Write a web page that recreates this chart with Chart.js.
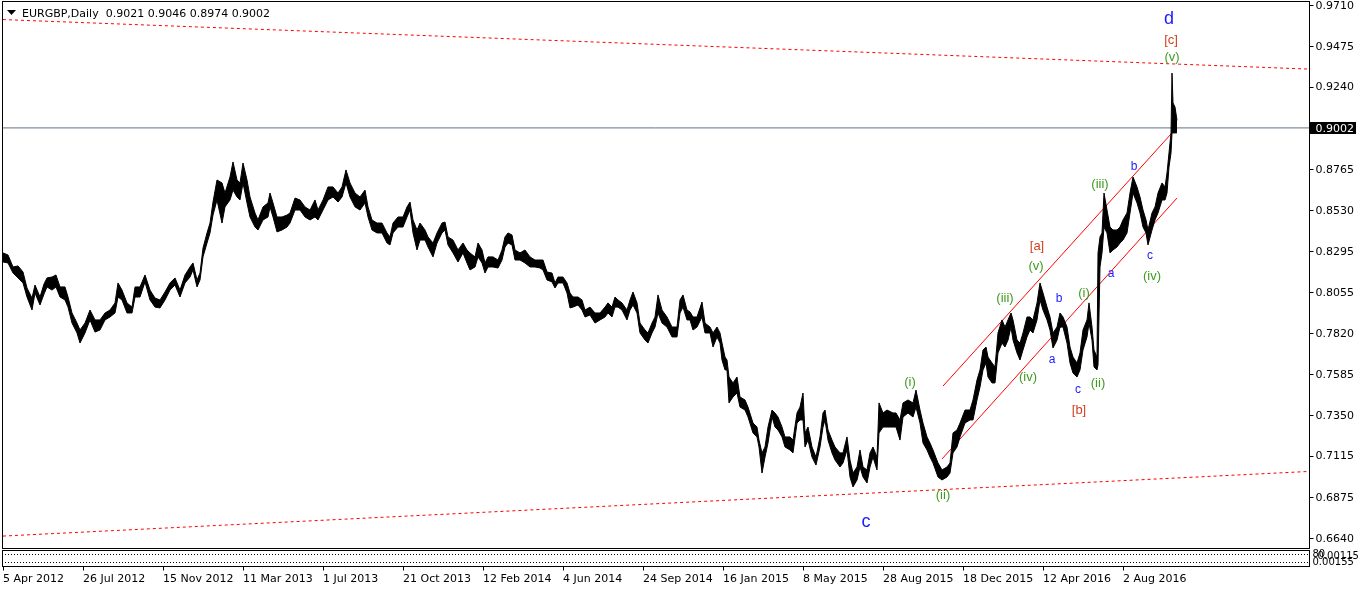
<!DOCTYPE html>
<html>
<head>
<meta charset="utf-8">
<title>EURGBP,Daily</title>
<script src="https://cdn.jsdelivr.net/npm/chart.js@4.4.0/dist/chart.umd.min.js"></script>
<style>
  html, body { margin: 0; padding: 0; background: #ffffff; }
  #wrap { width: 1362px; height: 590px; }
</style>
</head>
<body>
<div id="wrap"><canvas id="chart-eurgbp" width="1362" height="590"></canvas></div>
<script>
// EURGBP Daily - bar 0 = 5 Apr 2012, one bar per trading day
const barIndex = [
  0, 5, 10, 15, 20, 24, 29, 32, 37, 41,
  44, 49, 53, 57, 62, 65, 69, 74, 77, 82,
  87, 92, 97, 102, 107, 112, 115, 119, 124, 129,
  132, 137, 142, 147, 152, 157, 162, 167, 172, 177,
  182, 187, 190, 194, 197, 200, 204, 207, 210, 214,
  219, 222, 227, 230, 234, 237, 240, 244, 247, 252,
  255, 260, 265, 267, 270, 274, 279, 284, 287, 292,
  297, 302, 307, 312, 315, 320, 325, 330, 335, 339,
  343, 347, 352, 357, 362, 365, 369, 374, 379, 384,
  387, 390, 395, 400, 404, 407, 410, 414, 417, 422,
  425, 430, 434, 439, 442, 445, 450, 455, 460, 464,
  467, 472, 475, 479, 482, 485, 490, 495, 499, 502,
  505, 509, 512, 517, 522, 527, 532, 537, 540, 544,
  549, 552, 555, 560, 564, 567, 570, 575, 579, 582,
  587, 592, 597, 602, 605, 609, 612, 615, 619, 624,
  627, 630, 634, 637, 642, 645, 649, 652, 655, 659,
  664, 669, 674, 677, 680, 684, 687, 690, 694, 699,
  702, 707, 710, 714, 717, 719, 722, 724, 726, 730,
  734, 737, 742, 745, 750, 754, 756, 759, 762, 765,
  769, 772, 775, 779, 782, 787, 790, 794, 797, 800,
  802, 805, 809, 813, 817, 820, 822, 825, 829, 832,
  837, 840, 844, 847, 850, 854, 857, 860, 864, 867,
  870, 874, 876, 880, 884, 890, 893, 897, 900, 905,
  910, 913, 917, 920, 924, 927, 930, 935, 939, 944,
  947, 950, 954, 957, 962, 967, 970, 974, 977, 980,
  983, 985, 989, 992, 995, 999, 1002, 1005, 1008, 1010,
  1014, 1017, 1020, 1024, 1027, 1030, 1034, 1037, 1040, 1044,
  1047, 1050, 1054, 1057, 1060, 1064, 1067, 1070, 1074, 1077,
  1080, 1084, 1086, 1089, 1091, 1094, 1095, 1097, 1099, 1101,
  1104, 1107, 1110, 1114, 1117, 1120, 1124, 1127, 1130, 1134,
  1137, 1140, 1143, 1145, 1149, 1152, 1155, 1159, 1162, 1164,
  1166, 1168, 1169, 1170, 1172, 1174
];

const highs = [
  0.8282, 0.8270, 0.8201, 0.8207, 0.8172, 0.8080, 0.8022, 0.8097, 0.8028, 0.8103,
  0.8138, 0.8143, 0.8155, 0.8086, 0.8086, 0.8028, 0.7936, 0.7878, 0.7838, 0.7878,
  0.7953, 0.7896, 0.7896, 0.7936, 0.7953, 0.7994, 0.8109, 0.8068, 0.7994, 0.7970,
  0.8086, 0.8086, 0.8155, 0.8068, 0.8022, 0.8011, 0.8057, 0.8109, 0.8138, 0.8068,
  0.8155, 0.8201, 0.8224, 0.8126, 0.8166, 0.8310, 0.8397, 0.8454, 0.8575, 0.8702,
  0.8685, 0.8627, 0.8719, 0.8806, 0.8702, 0.8685, 0.8800, 0.8702, 0.8604, 0.8512,
  0.8472, 0.8547, 0.8570, 0.8627, 0.8570, 0.8489, 0.8489, 0.8500, 0.8512, 0.8598,
  0.8587, 0.8547, 0.8529, 0.8587, 0.8529, 0.8587, 0.8662, 0.8662, 0.8627, 0.8662,
  0.8760, 0.8685, 0.8627, 0.8604, 0.8644, 0.8547, 0.8472, 0.8454, 0.8454, 0.8397,
  0.8374, 0.8454, 0.8489, 0.8489, 0.8547, 0.8575, 0.8472, 0.8414, 0.8454, 0.8414,
  0.8374, 0.8339, 0.8397, 0.8454, 0.8460, 0.8374, 0.8356, 0.8299, 0.8339, 0.8299,
  0.8282, 0.8259, 0.8339, 0.8299, 0.8224, 0.8259, 0.8259, 0.8241, 0.8299, 0.8374,
  0.8397, 0.8385, 0.8299, 0.8282, 0.8299, 0.8259, 0.8241, 0.8241, 0.8241, 0.8172,
  0.8166, 0.8109, 0.8143, 0.8143, 0.8109, 0.8051, 0.8028, 0.8028, 0.8011, 0.7953,
  0.7970, 0.7936, 0.7936, 0.7970, 0.7994, 0.7970, 0.8028, 0.8011, 0.7994, 0.7953,
  0.8011, 0.8057, 0.7994, 0.7878, 0.7838, 0.7821, 0.7878, 0.7913, 0.8040, 0.7953,
  0.7913, 0.7855, 0.7855, 0.8011, 0.8040, 0.7953, 0.7942, 0.7913, 0.7913, 0.7999,
  0.7878, 0.7855, 0.7821, 0.7855, 0.7821, 0.7763, 0.7682, 0.7665, 0.7567, 0.7533,
  0.7567, 0.7452, 0.7435, 0.7394, 0.7302, 0.7279, 0.7204, 0.7130, 0.7164, 0.7279,
  0.7377, 0.7360, 0.7337, 0.7279, 0.7222, 0.7222, 0.7204, 0.7360, 0.7394, 0.7475,
  0.7245, 0.7279, 0.7164, 0.7106, 0.7222, 0.7360, 0.7377, 0.7262, 0.7204, 0.7164,
  0.7130, 0.7130, 0.7222, 0.7089, 0.7014, 0.7049, 0.7147, 0.7049, 0.7032, 0.7130,
  0.7164, 0.7106, 0.7418, 0.7360, 0.7377, 0.7360, 0.7360, 0.7320, 0.7418, 0.7435,
  0.7418, 0.7492, 0.7377, 0.7302, 0.7222, 0.7187, 0.7147, 0.7072, 0.7032, 0.7049,
  0.7072, 0.7245, 0.7262, 0.7302, 0.7377, 0.7377, 0.7435, 0.7550, 0.7608, 0.7723,
  0.7740, 0.7682, 0.7648, 0.7625, 0.7821, 0.7896, 0.7855, 0.7896, 0.7936, 0.7896,
  0.7780, 0.7763, 0.7821, 0.7913, 0.7913, 0.7896, 0.7994, 0.8109, 0.8051, 0.7970,
  0.7913, 0.7821, 0.7855, 0.7936, 0.7913, 0.7855, 0.7740, 0.7682, 0.7648, 0.7706,
  0.7838, 0.7896, 0.7994, 0.7855, 0.7723, 0.7682, 0.8282, 0.8374, 0.8397, 0.8627,
  0.8529, 0.8431, 0.8414, 0.8414, 0.8431, 0.8472, 0.8512, 0.8627, 0.8719, 0.8662,
  0.8604, 0.8529, 0.8472, 0.8414, 0.8512, 0.8547, 0.8627, 0.8685, 0.8662, 0.8742,
  0.8858, 0.8973, 0.9318, 0.9146, 0.9122, 0.9046
];

const lows = [
  0.8230, 0.8224, 0.8166, 0.8138, 0.8109, 0.8028, 0.7953, 0.8051, 0.7982, 0.8045,
  0.8086, 0.8068, 0.8086, 0.8028, 0.8011, 0.7970, 0.7878, 0.7821, 0.7763, 0.7821,
  0.7896, 0.7826, 0.7838, 0.7896, 0.7913, 0.7936, 0.8028, 0.8011, 0.7936, 0.7936,
  0.8028, 0.8028, 0.8115, 0.8011, 0.7970, 0.7965, 0.8011, 0.8068, 0.8097, 0.8028,
  0.8109, 0.8143, 0.8184, 0.8086, 0.8126, 0.8259, 0.8339, 0.8397, 0.8500, 0.8587,
  0.8454, 0.8547, 0.8587, 0.8644, 0.8604, 0.8587, 0.8685, 0.8570, 0.8489, 0.8431,
  0.8414, 0.8472, 0.8489, 0.8547, 0.8489, 0.8403, 0.8414, 0.8431, 0.8454, 0.8529,
  0.8529, 0.8489, 0.8472, 0.8489, 0.8472, 0.8529, 0.8587, 0.8604, 0.8575, 0.8604,
  0.8685, 0.8604, 0.8547, 0.8529, 0.8570, 0.8489, 0.8414, 0.8397, 0.8397, 0.8339,
  0.8328, 0.8397, 0.8431, 0.8431, 0.8489, 0.8529, 0.8397, 0.8299, 0.8356, 0.8356,
  0.8316, 0.8259, 0.8339, 0.8397, 0.8414, 0.8328, 0.8282, 0.8230, 0.8282, 0.8224,
  0.8184, 0.8201, 0.8259, 0.8224, 0.8166, 0.8201, 0.8201, 0.8195, 0.8241, 0.8316,
  0.8339, 0.8328, 0.8241, 0.8241, 0.8224, 0.8201, 0.8201, 0.8195, 0.8184, 0.8126,
  0.8115, 0.8080, 0.8109, 0.8109, 0.8051, 0.7965, 0.7970, 0.7982, 0.7953, 0.7913,
  0.7924, 0.7878, 0.7896, 0.7913, 0.7936, 0.7913, 0.7970, 0.7970, 0.7953, 0.7896,
  0.7953, 0.7982, 0.7936, 0.7821, 0.7780, 0.7763, 0.7821, 0.7855, 0.7936, 0.7878,
  0.7855, 0.7798, 0.7798, 0.7936, 0.7970, 0.7896, 0.7896, 0.7838, 0.7855, 0.7913,
  0.7821, 0.7821, 0.7740, 0.7798, 0.7763, 0.7665, 0.7608, 0.7608, 0.7418, 0.7452,
  0.7475, 0.7394, 0.7377, 0.7337, 0.7245, 0.7222, 0.7164, 0.7014, 0.7106, 0.7187,
  0.7337, 0.7279, 0.7262, 0.7222, 0.7164, 0.7147, 0.7130, 0.7302, 0.7320, 0.7320,
  0.7164, 0.7204, 0.7106, 0.7060, 0.7164, 0.7279, 0.7320, 0.7204, 0.7130, 0.7089,
  0.7049, 0.7072, 0.7147, 0.6991, 0.6934, 0.6974, 0.7049, 0.6991, 0.6957, 0.7049,
  0.7106, 0.7032, 0.7245, 0.7279, 0.7279, 0.7279, 0.7279, 0.7204, 0.7337, 0.7360,
  0.7337, 0.7394, 0.7302, 0.7187, 0.7147, 0.7106, 0.7072, 0.6991, 0.6974, 0.6991,
  0.7014, 0.7130, 0.7164, 0.7222, 0.7302, 0.7320, 0.7320, 0.7435, 0.7510, 0.7608,
  0.7648, 0.7567, 0.7533, 0.7533, 0.7706, 0.7763, 0.7740, 0.7780, 0.7855, 0.7780,
  0.7706, 0.7665, 0.7723, 0.7798, 0.7838, 0.7821, 0.7896, 0.8011, 0.7953, 0.7896,
  0.7838, 0.7734, 0.7780, 0.7855, 0.7855, 0.7763, 0.7648, 0.7590, 0.7567, 0.7608,
  0.7723, 0.7798, 0.7878, 0.7780, 0.7625, 0.7608, 0.7636, 0.8201, 0.8282, 0.8431,
  0.8397, 0.8282, 0.8299, 0.8316, 0.8339, 0.8356, 0.8397, 0.8512, 0.8627, 0.8570,
  0.8512, 0.8431, 0.8397, 0.8328, 0.8414, 0.8472, 0.8512, 0.8587, 0.8587, 0.8627,
  0.8777, 0.8858, 0.8973, 0.8973, 0.8973, 0.8974
];

// axes
const yTicks = [0.9710, 0.9475, 0.9240, 0.8765, 0.8530, 0.8295, 0.8055, 0.7820, 0.7585, 0.7350, 0.7115, 0.6875, 0.6640];
const xTickBars = [0, 80, 160, 240, 320, 400, 480, 560, 640, 720, 800, 880, 960, 1040, 1120];
const xTickLabels = [
  "5 Apr 2012", "26 Jul 2012", "15 Nov 2012", "11 Mar 2013", "1 Jul 2013",
  "21 Oct 2013", "12 Feb 2014", "4 Jun 2014", "24 Sep 2014", "16 Jan 2015",
  "8 May 2015", "28 Aug 2015", "18 Dec 2015", "12 Apr 2016", "2 Aug 2016"
];
const lastPrice = 0.9002;
const lastPriceBars = [-1, 1306];
const titleText = "EURGBP,Daily  0.9021 0.9046 0.8974 0.9002";

// trend lines (bar, price)
const outerTopBars = [0, 1305];
const outerTopPrices = [0.9626, 0.9341];
const outerBottomBars = [0, 1305];
const outerBottomPrices = [0.6651, 0.7023];
const channelTopBars = [940, 1169];
const channelTopPrices = [0.7515, 0.8973];
const channelBottomBars = [939, 1174];
const channelBottomPrices = [0.7095, 0.8598];

// wave counts
const waveText = ["d", "[c]", "(v)", "(iii)", "b", "a", "c", "(iv)", "(i)", "b", "a", "c", "(ii)", "[b]", "[a]", "(v)", "(iii)", "(iv)", "(i)", "(ii)", "c"];
const waveBars = [1166, 1168, 1169, 1097, 1131, 1108, 1147, 1149, 1081, 1056, 1049, 1075, 1095, 1076, 1034, 1033, 1002, 1025, 907, 940, 863];
const wavePrices = [0.9629, 0.9508, 0.9410, 0.8679, 0.8777, 0.8161, 0.8264, 0.8149, 0.8051, 0.8017, 0.7665, 0.7492, 0.7533, 0.7377, 0.8322, 0.8207, 0.8017, 0.7567, 0.7538, 0.6888, 0.6732];
const waveDegree = ["big", "inter", "minor", "minor", "minute", "minute", "minute", "minor", "minor", "minute", "minute", "minute", "minor", "inter", "inter", "minor", "minor", "minor", "minor", "minor", "big"];

const degreeStyle = {
  big: { color: "#1a1aff", font: "18px 'Liberation Sans'" },
  inter: { color: "#d2401e", font: "13px 'Liberation Sans'" },
  minor: { color: "#3f9a22", font: "13px 'Liberation Sans'" },
  minute: { color: "#1a1aff", font: "12px 'Liberation Sans'" },
};

function toPoints(bars, prices) {
  return bars.map((b, i) => ({ x: b, y: prices[i] }));
}

function trendLine(bars, prices, color, dash) {
  return {
    data: toPoints(bars, prices),
    borderColor: color,
    borderWidth: 1,
    borderDash: dash,
    pointRadius: 0,
    fill: false,
  };
}

const mtDecor = {
  id: "mtDecor",
  afterDatasetsDraw(chart) {
    const ctx = chart.ctx;
    const xs = chart.scales.x;
    const ys = chart.scales.y;
    ctx.save();
    ctx.textAlign = "center";
    ctx.textBaseline = "middle";
    waveText.forEach((t, i) => {
      const st = degreeStyle[waveDegree[i]];
      ctx.fillStyle = st.color;
      ctx.font = st.font;
      ctx.fillText(t, xs.getPixelForValue(waveBars[i]), ys.getPixelForValue(wavePrices[i]));
    });
    ctx.restore();
  },
  afterDraw(chart) {
    const ctx = chart.ctx;
    const area = chart.chartArea;
    const xs = chart.scales.x;
    const ys = chart.scales.y;
    const right = Math.round(area.right) + 0.5;
    ctx.save();

    // main panel frame
    ctx.strokeStyle = "#000";
    ctx.lineWidth = 1;
    ctx.strokeRect(Math.round(area.left) + 0.5, Math.round(area.top) + 0.5, right - Math.round(area.left) - 0.5, Math.round(area.bottom) - Math.round(area.top));

    // indicator sub panel (only the frame and its level lines)
    const subTop = Math.round(area.bottom) + 2.5;
    const subBottom = subTop + 16;
    ctx.strokeRect(Math.round(area.left) + 0.5, subTop, right - Math.round(area.left) - 0.5, subBottom - subTop);
    ctx.setLineDash([1, 2]);
    ctx.beginPath();
    ctx.moveTo(area.left, subTop + 4);
    ctx.lineTo(right, subTop + 4);
    ctx.moveTo(area.left, subTop + 12);
    ctx.lineTo(right, subTop + 12);
    ctx.stroke();
    ctx.setLineDash([]);
    ctx.font = "10px 'DejaVu Sans'";
    ctx.fillStyle = "#000";
    ctx.textAlign = "left";
    ctx.textBaseline = "middle";
    ctx.fillText("80", right + 3, subTop + 4);
    ctx.fillText("0.00115", right + 8, subTop + 6);
    ctx.fillText("0.00155", right + 3, subTop + 12);

    // right price scale
    ctx.font = "11px 'DejaVu Sans'";
    ctx.beginPath();
    yTicks.forEach((v) => {
      const py = Math.round(ys.getPixelForValue(v)) + 0.5;
      ctx.moveTo(right, py);
      ctx.lineTo(right + 4, py);
    });
    ctx.stroke();
    yTicks.forEach((v) => {
      const py = ys.getPixelForValue(v);
      ctx.fillText(v.toFixed(4), right + 6, py + 1);
    });

    // last price marker
    const lp = Math.round(ys.getPixelForValue(lastPrice));
    ctx.fillStyle = "#000";
    ctx.fillRect(right + 0.5, lp - 6, 46, 12);
    ctx.fillStyle = "#fff";
    ctx.fillText(lastPrice.toFixed(4), right + 6, lp + 1);

    // time scale
    ctx.fillStyle = "#000";
    ctx.beginPath();
    xTickBars.forEach((b) => {
      const px = Math.round(xs.getPixelForValue(b)) + 0.5;
      ctx.moveTo(px, subBottom);
      ctx.lineTo(px, subBottom + 4);
    });
    ctx.stroke();
    ctx.textBaseline = "alphabetic";
    xTickLabels.forEach((t, i) => {
      ctx.fillText(t, xs.getPixelForValue(xTickBars[i]), subBottom + 15);
    });

    // title
    ctx.beginPath();
    ctx.moveTo(7, 10);
    ctx.lineTo(16, 10);
    ctx.lineTo(11.5, 15);
    ctx.closePath();
    ctx.fill();
    ctx.fillText(titleText, 22, 17);
    ctx.restore();
  },
};

new Chart(document.getElementById("chart-eurgbp"), {
  type: "line",
  data: {
    datasets: [
      {
        label: "High",
        data: toPoints(barIndex, highs),
        borderColor: "#000",
        backgroundColor: "#000",
        borderWidth: 1,
        pointRadius: 0,
        fill: "+1",
      },
      {
        label: "Low",
        data: toPoints(barIndex, lows),
        borderColor: "#000",
        borderWidth: 1,
        pointRadius: 0,
        fill: false,
      },
      trendLine(lastPriceBars, [lastPrice, lastPrice], "#5f7185", []),
      trendLine(outerTopBars, outerTopPrices, "#ff0000", [3, 3]),
      trendLine(outerBottomBars, outerBottomPrices, "#ff0000", [3, 3]),
      trendLine(channelTopBars, channelTopPrices, "#ff0000", []),
      trendLine(channelBottomBars, channelBottomPrices, "#ff0000", []),
    ],
  },
  options: {
    responsive: false,
    animation: false,
    devicePixelRatio: 1,
    events: [],
    layout: { padding: { left: 2, top: 1, right: 53, bottom: 42 } },
    elements: { line: { tension: 0 } },
    scales: {
      x: { type: "linear", min: -1, max: 1306, display: false },
      y: { type: "linear", min: 0.65823, max: 0.97330, display: false },
    },
    plugins: { legend: { display: false }, tooltip: { enabled: false } },
  },
  plugins: [mtDecor],
});
</script>
</body>
</html>
